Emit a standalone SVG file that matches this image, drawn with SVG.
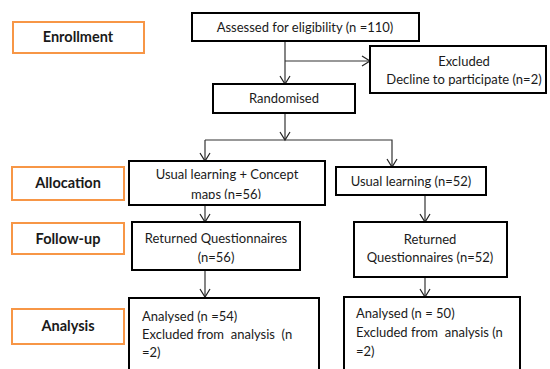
<svg xmlns="http://www.w3.org/2000/svg" width="550" height="369" viewBox="0 0 550 369">
<style>
text{font-family:Lato,"Open Sans","DejaVu Sans",sans-serif;font-size:13px;fill:#1a1a1a}
.lbl rect{fill:#fff;stroke:#f79646;stroke-width:2}
.lbl text{font-weight:bold;font-size:14.5px;text-anchor:middle}
.box rect{fill:#fff;stroke:#000;stroke-width:2}
.c{text-anchor:middle}
#connectors path{fill:none;stroke:#333;stroke-width:1.2}
</style>
<defs>
<marker id="ah" markerWidth="12" markerHeight="12" refX="10" refY="6" orient="auto" markerUnits="userSpaceOnUse">
<path d="M2,1 L10,6 L2,11" fill="none" stroke="#222" stroke-width="1.2"/>
</marker>
<clipPath id="clipC"><rect x="130" y="162" width="194" height="37"/></clipPath>
</defs>
<g id="connectors">
<path d="M285,41 V84" marker-end="url(#ah)"/>
<path d="M285,61 H370" marker-end="url(#ah)"/>
<path d="M285,113 V140" marker-end="url(#ah)"/>
<path d="M205,140 H392 V167" marker-end="url(#ah)"/>
<path d="M205,140 V161" marker-end="url(#ah)"/>
<path d="M205,205 V222" marker-end="url(#ah)"/>
<path d="M425,195 V222" marker-end="url(#ah)"/>
<path d="M205,270 V297" marker-end="url(#ah)"/>
<path d="M425,277 V297" marker-end="url(#ah)"/>
</g>
<g id="enrollment" class="lbl"><rect x="13" y="22" width="131" height="31"/><text x="78" y="42">Enrollment</text></g>
<g id="allocation" class="lbl"><rect x="12" y="167" width="112" height="33"/><text x="68" y="188">Allocation</text></g>
<g id="followup" class="lbl"><rect x="12" y="223" width="112" height="31"/><text x="68" y="244">Follow-up</text></g>
<g id="analysis" class="lbl"><rect x="12" y="309" width="112" height="35"/><text x="68" y="331">Analysis</text></g>
<g id="assessed" class="box"><rect x="192" y="13" width="227" height="28"/><text class="c" x="305" y="32">Assessed for eligibility (n =110)</text></g>
<g id="excluded" class="box"><rect x="370" y="46" width="176" height="47"/><text class="c" x="464" y="66">Excluded</text><text class="c" x="464" y="84">Decline to participate (n=2)</text></g>
<g id="randomised" class="box"><rect x="213" y="84" width="142" height="29"/><text class="c" x="284" y="103">Randomised</text></g>
<g id="concept" class="box"><rect x="129" y="161" width="196" height="44"/><g clip-path="url(#clipC)"><text class="c" x="227" y="179">Usual learning + Concept</text><text class="c" x="226" y="199">maps (n=56)</text></g></g>
<g id="usual" class="box"><rect x="336" y="167" width="150" height="28"/><text class="c" x="411" y="186">Usual learning (n=52)</text></g>
<g id="returned1" class="box"><rect x="132" y="222" width="168" height="48"/><text class="c" x="216" y="243">Returned Questionnaires</text><text class="c" x="216" y="262">(n=56)</text></g>
<g id="returned2" class="box"><rect x="354" y="222" width="153" height="55"/><text class="c" x="430" y="244">Returned</text><text class="c" x="430" y="262">Questionnaires (n=52)</text></g>
<g id="analysed1" class="box"><rect x="129" y="298" width="190" height="80"/><text x="142" y="321">Analysed (n =54)</text><text x="142" y="339" xml:space="preserve">Excluded from  analysis  (n</text><text x="142" y="357">=2)</text></g>
<g id="analysed2" class="box"><rect x="344" y="297" width="176" height="80"/><text x="356" y="318">Analysed (n = 50)</text><text x="356" y="337" xml:space="preserve">Excluded from  analysis (n</text><text x="356" y="356">=2)</text></g>
</svg>
